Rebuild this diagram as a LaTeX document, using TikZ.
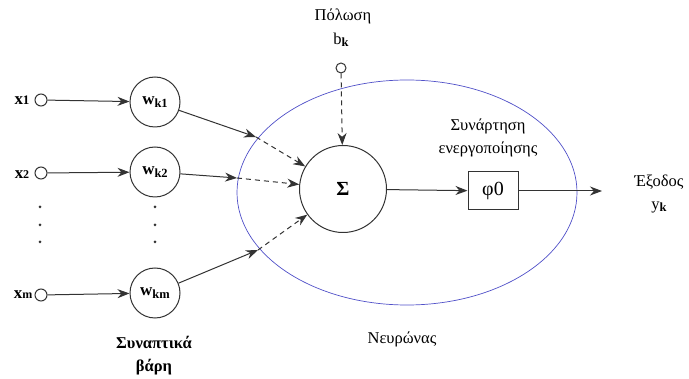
\documentclass[tikz,border=0pt]{standalone}
\usepackage{fontspec}
\setmainfont{Liberation Serif}
\usetikzlibrary{arrows.meta}
\tikzset{
  lbl/.style={inner sep=0pt, font=\fontsize{16.5}{23}\selectfont, align=center},
  wnode/.style={circle, draw=black!80, line width=1pt, minimum size=50pt, inner sep=0pt, font=\fontsize{17}{19}\selectfont\bfseries},
  innode/.style={circle, draw=black!80, line width=1pt, minimum size=12pt, inner sep=0pt},
  arr/.style={draw=black!80, line width=1pt, -{Stealth[length=12pt,width=9pt]}},
  darr/.style={arr, dashed, dash pattern=on 5pt off 4pt},
  dotc/.style={circle, fill=black!80, minimum size=3pt, inner sep=0pt}
}
\begin{document}
\begin{tikzpicture}[x=1pt,y=-1pt]
\useasboundingbox (0,0) rectangle (689,379);
% ellipse (neuron)
\draw[draw={rgb,255:red,80;green,80;blue,200}, line width=0.7pt] (407,192.5) ellipse [x radius=170, y radius=112.5];
% inputs
\node[lbl, font=\fontsize{17}{19}\selectfont\bfseries] (lx1) at (22,100) {x{\fontsize{13}{14}\selectfont 1}};
\node[lbl, font=\fontsize{17}{19}\selectfont\bfseries] (lx2) at (22,175) {x{\fontsize{12}{14}\selectfont 2}};
\node[lbl, font=\fontsize{17}{19}\selectfont\bfseries] (lxm) at (23,295) {x{\fontsize{12}{14}\selectfont m}};
\node[innode] (i1) at (41,100) {};
\node[innode] (i2) at (41,173) {};
\node[innode] (im) at (41,295) {};
% weights
\node[wnode] (w1) at (155,102) {w{\fontsize{12.5}{14}\selectfont\raisebox{-3pt}{k1}}};
\node[wnode] (w2) at (155,172) {w{\fontsize{12.5}{14}\selectfont\raisebox{-3pt}{k2}}};
\node[wnode] (wm) at (155,293) {w{\fontsize{12.5}{14}\selectfont\raisebox{-3pt}{km}}};
% dots
\foreach \yy/\n in {207/a,225/b,242/c}{
  \node[dotc] (dl\n) at (40,\yy) {};
  \node[dotc] (dm\n) at (155,\yy) {};
}
\draw[arr] (i1) -- (w1);
\draw[arr] (i2) -- (w2);
\draw[arr] (im) -- (wm);
% sum node
\node[circle, draw=black!80, line width=1pt, minimum size=87pt, inner sep=0pt, font=\fontsize{20}{22}\selectfont\bfseries] (s) at (343,189) {Σ};
% ellipse crossing points
\coordinate (c1) at (256,137);
\coordinate (c2) at (237,178);
\coordinate (c3) at (258,250);
\draw[arr] (w1) -- (c1);
\draw[arr] (w2) -- (c2);
\draw[arr] (wm) -- (c3);
\draw[darr] (c1) -- (s);
\draw[darr] (c2) -- (s);
\draw[darr] (c3) -- (s);
% bias
\node[lbl] (pol) at (343,16) {Πόλωση};
\node[lbl] (bk) at (341,40) {b{\fontsize{12.5}{14}\selectfont\bfseries\raisebox{-2.5pt}{k}}};
\node[innode, minimum size=10pt] (b) at (341,68) {};
\draw[darr] (b) -- (s);
% activation
\node[draw=black!80, line width=1pt, minimum width=50pt, minimum height=38pt, inner sep=0pt, font=\fontsize{20}{22}\selectfont] (phi) at (493,191) {φ0};
\node[lbl] (act) at (488,138) {Συνάρτηση\\ενεργοποίησης};
\draw[arr] (s) -- (phi);
\coordinate (out) at (602,191);
\draw[arr] (phi) -- (out);
\node[lbl] (exo) at (659,194) {Έξοδος\\y{\fontsize{12.5}{14}\selectfont\bfseries\raisebox{-2.5pt}{k}}};
% bottom labels
\node[lbl, font=\fontsize{16.5}{23}\selectfont\bfseries] (syn) at (154,356) {Συναπτικά\\βάρη};
\node[lbl] (neu) at (402,339) {Νευρώνας};
\end{tikzpicture}
\end{document}
